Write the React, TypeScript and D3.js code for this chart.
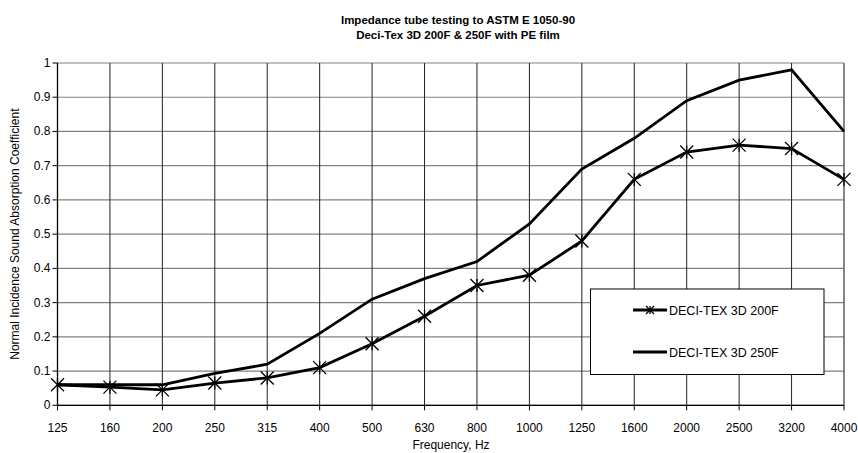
import React from "react";
import * as d3 from "d3";

const categories = ["125", "160", "200", "250", "315", "400", "500", "630", "800", "1000", "1250", "1600", "2000", "2500", "3200", "4000"];
const series200F = [0.06, 0.053, 0.045, 0.065, 0.08, 0.11, 0.18, 0.26, 0.35, 0.38, 0.48, 0.66, 0.74, 0.76, 0.75, 0.66];
const series250F = [0.06, 0.06, 0.06, 0.093, 0.12, 0.21, 0.31, 0.37, 0.42, 0.53, 0.69, 0.78, 0.89, 0.95, 0.98, 0.8];
const yTicks = [0, 0.1, 0.2, 0.3, 0.4, 0.5, 0.6, 0.7, 0.8, 0.9, 1];
const titleLines = ["Impedance tube testing to ASTM E 1050-90", "Deci-Tex 3D 200F & 250F with PE film"];
const legendNames = ["DECI-TEX 3D 200F", "DECI-TEX 3D 250F"];

const W = 858, H = 453;
const L = 57.5, R = 844, T = 63, B = 405.3;
const FONT = "Liberation Sans, Arial, sans-serif";

function Star({ x, y, s = 6 }: { x: number; y: number; s?: number }) {
  return (
    <g stroke="#000" strokeWidth={1.3}>
      <line x1={x - s} y1={y - s} x2={x + s} y2={y + s} />
      <line x1={x - s} y1={y + s} x2={x + s} y2={y - s} />
      <line x1={x} y1={y - s} x2={x} y2={y + s} />
    </g>
  );
}

export default function App() {
  const x = d3.scalePoint<string>().domain(categories).range([L, R]);
  const y = d3.scaleLinear().domain([0, 1]).range([B, T]);
  const line = d3.line<number>().x((_, i) => x(categories[i])!).y((d) => y(d));

  return (
    <svg width={W} height={H} style={{ position: "absolute", left: 0, top: 0 }} fontFamily={FONT}>
      <rect width={W} height={H} fill="#fff" />
      {titleLines.map((t, i) => (
        <text key={i} x={458} y={24 + i * 15} textAnchor="middle" fontSize={11.5} fontWeight="bold">{t}</text>
      ))}
      {yTicks.map((v) => (
        <line key={"h" + v} x1={L} x2={R} y1={y(v)} y2={y(v)} stroke="#808080" strokeWidth={1.2} />
      ))}
      {categories.map((c) => (
        <line key={"v" + c} x1={x(c)} x2={x(c)} y1={T} y2={B} stroke="#222" strokeWidth={1} />
      ))}
      <line x1={R} x2={R} y1={T} y2={B} stroke="#808080" strokeWidth={1.2} />
      <line x1={L} x2={L} y1={T} y2={B} stroke="#000" strokeWidth={1.3} />
      <line x1={L} x2={R} y1={B} y2={B} stroke="#000" strokeWidth={1.3} />
      {yTicks.map((v) => (
        <g key={"yt" + v}>
          <line x1={L - 5} x2={L} y1={y(v)} y2={y(v)} stroke="#000" />
          <text x={L - 7} y={y(v) + 4} textAnchor="end" fontSize={12}>{String(v)}</text>
        </g>
      ))}
      {categories.map((c) => (
        <g key={"xt" + c}>
          <line x1={x(c)} x2={x(c)} y1={B} y2={B + 5} stroke="#000" />
          <text x={x(c)} y={B + 27} textAnchor="middle" fontSize={12}>{c}</text>
        </g>
      ))}
      <text x={451} y={449} textAnchor="middle" fontSize={12}>Frequency, Hz</text>
      <text transform={`translate(19,${(T + B) / 2}) rotate(-90)`} textAnchor="middle" fontSize={12}>
        Normal Incidence Sound Absorption Coefficient
      </text>
      <path d={line(series250F)!} fill="none" stroke="#000" strokeWidth={2.8} strokeLinejoin="miter" />
      <path d={line(series200F)!} fill="none" stroke="#000" strokeWidth={2.8} strokeLinejoin="miter" />
      {series200F.map((v, i) => (
        <Star key={"s" + i} x={x(categories[i])!} y={y(v)} s={6.5} />
      ))}
      <rect x={590.5} y={289} width={233.5} height={85.5} fill="#fff" stroke="#000" strokeWidth={1} />
      <g>
        <line x1={633} x2={667} y1={310} y2={310} stroke="#000" strokeWidth={2.8} />
        <Star x={650} y={310} s={4} />
        <text x={669} y={314.5} fontSize={12.5}>{legendNames[0]}</text>
        <line x1={633} x2={667} y1={352} y2={352} stroke="#000" strokeWidth={2.8} />
        <text x={669} y={356.5} fontSize={12.5}>{legendNames[1]}</text>
      </g>
    </svg>
  );
}
